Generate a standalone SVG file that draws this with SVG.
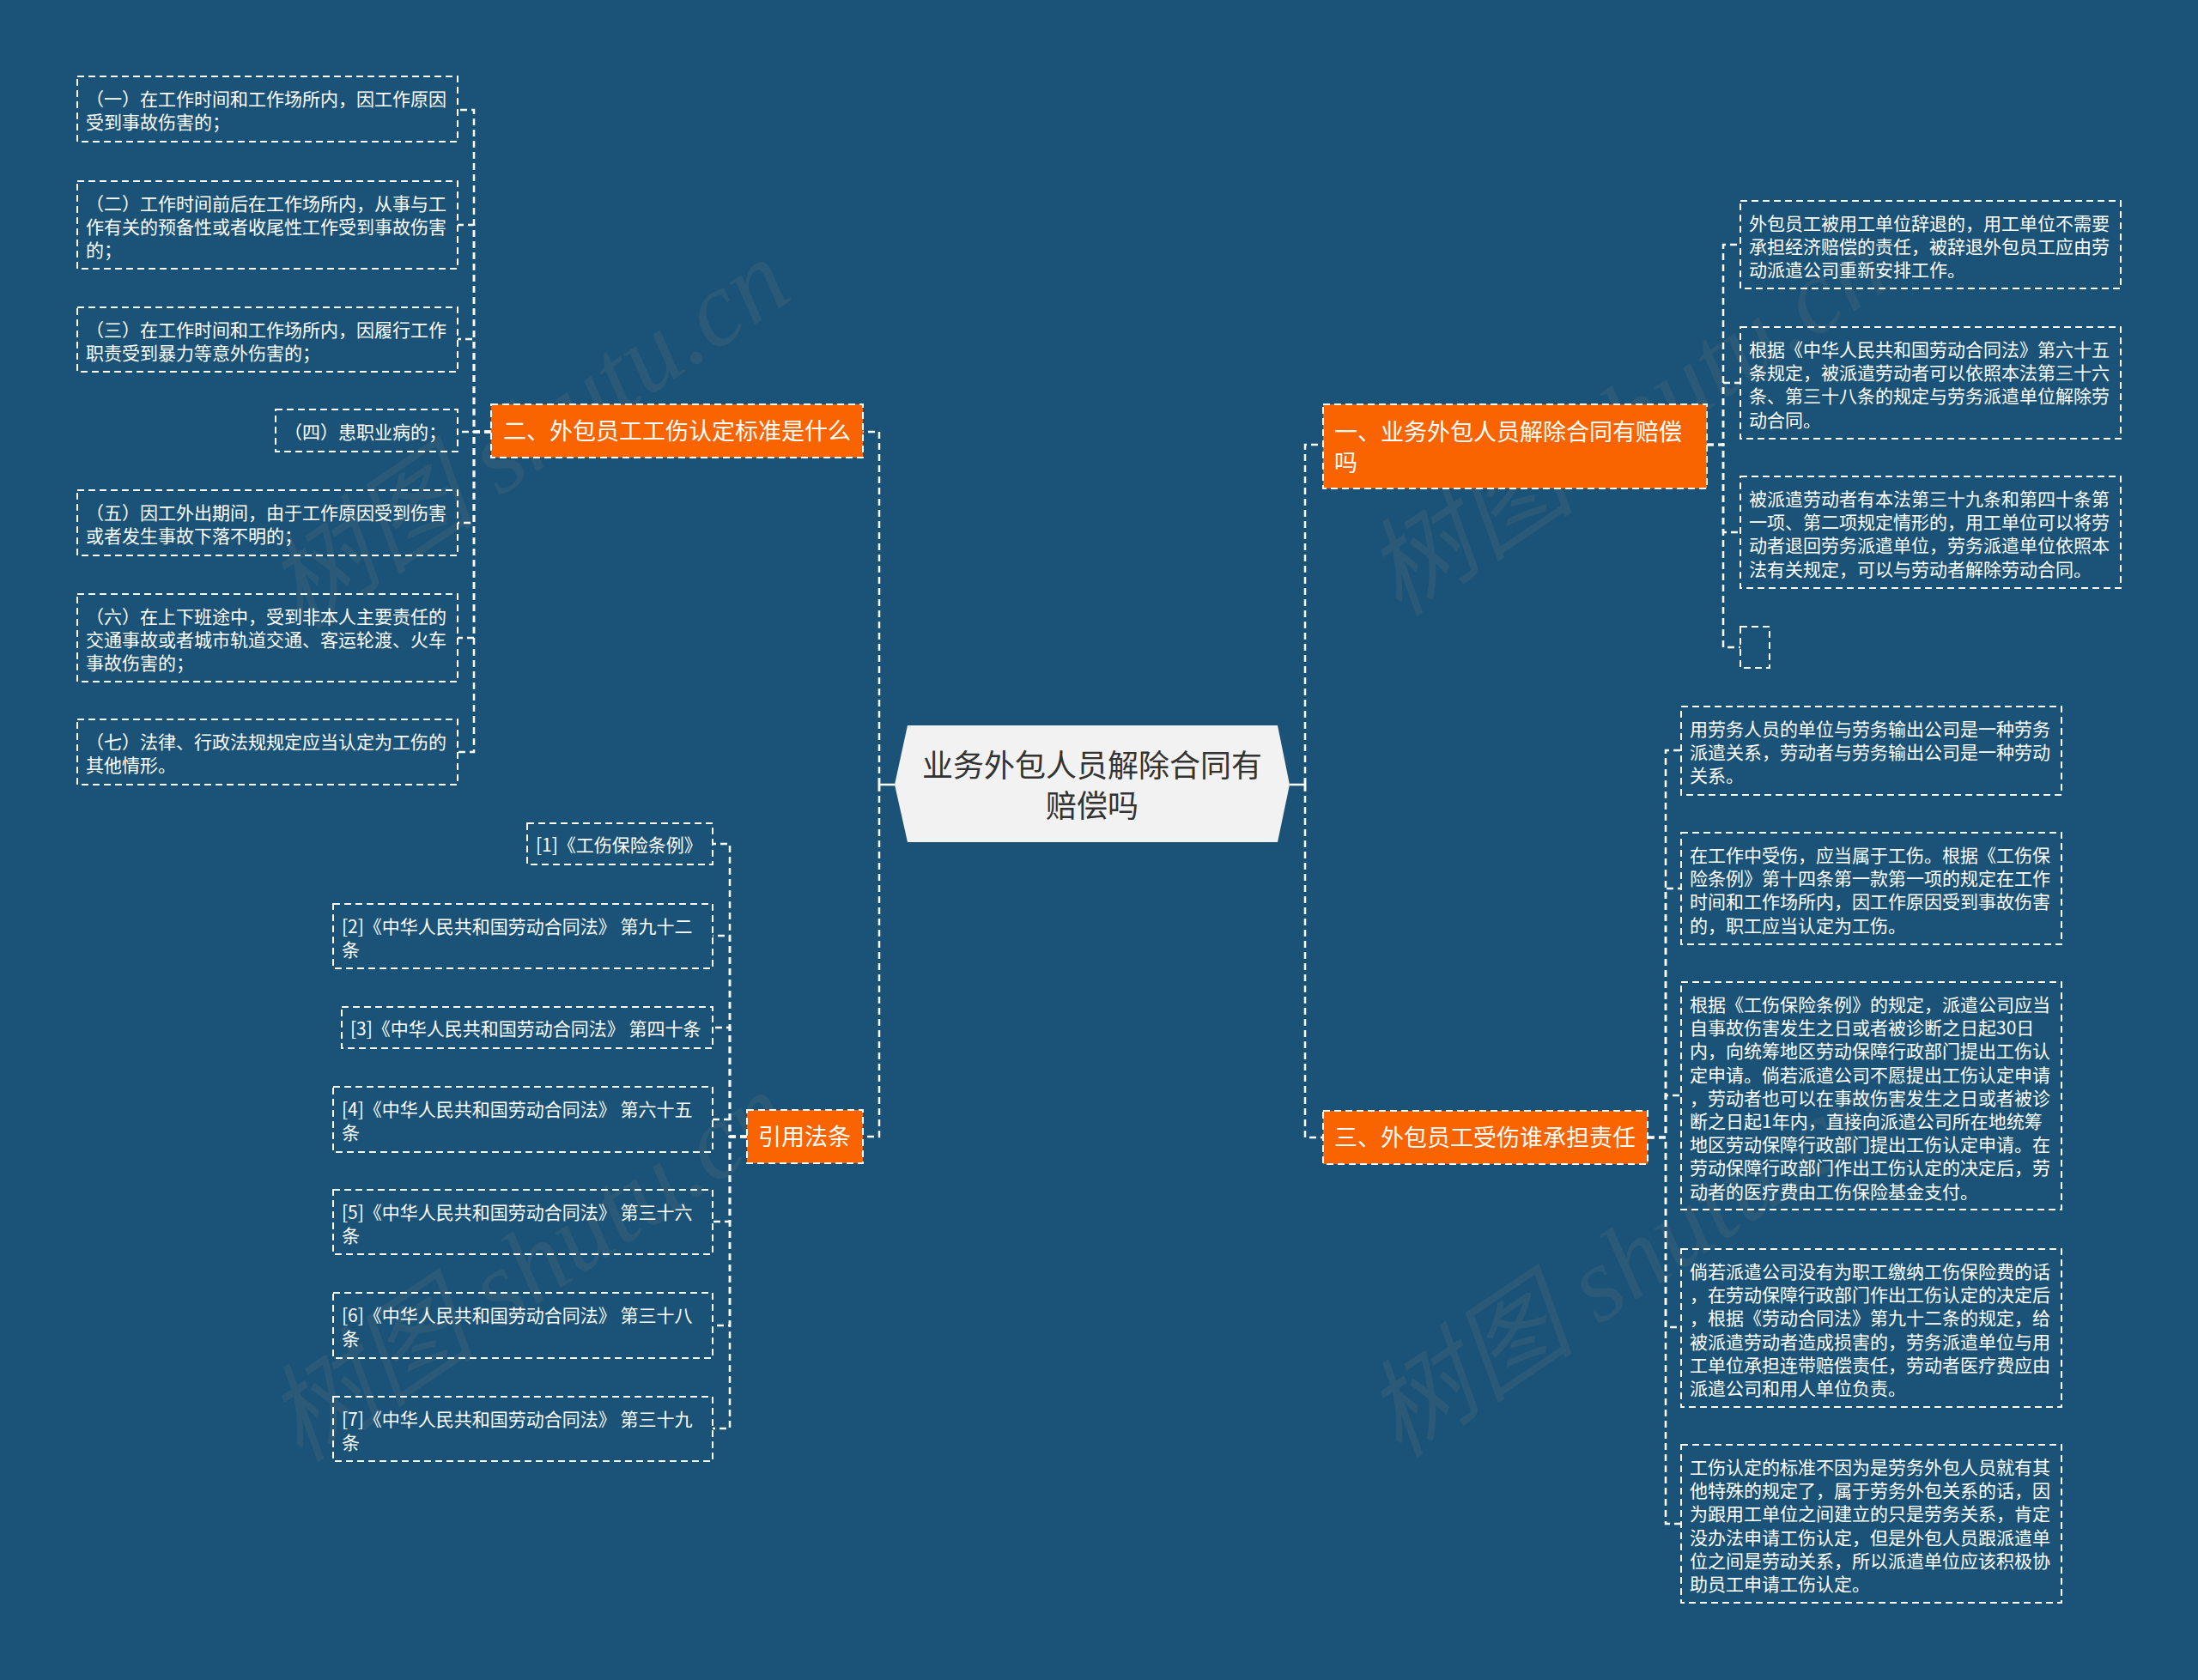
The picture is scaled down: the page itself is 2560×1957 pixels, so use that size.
<svg xmlns="http://www.w3.org/2000/svg" width="2560" height="1957" viewBox="0 0 2560 1957">
<style>
.leaf rect{fill:none;stroke:#fff;stroke-width:2;stroke-dasharray:8 5}
.leaf text{fill:#fff;font-size:21px;font-family:"Noto Sans CJK SC","Noto Sans",sans-serif;dominant-baseline:central}
.main rect{fill:#fa6400;stroke:#fff;stroke-width:2;stroke-dasharray:8 5}
.main text{fill:#fff;font-size:27px;font-family:"Noto Sans CJK SC","Noto Sans",sans-serif;dominant-baseline:central}
.conn path{fill:none;stroke:#fff;stroke-width:2.5;stroke-dasharray:8 5}
.conn .solid{stroke-dasharray:none}
.wm{fill:#7a7a7a;fill-opacity:0.17;font-size:124px;font-family:"Liberation Serif","Noto Sans CJK SC",serif;font-style:italic}
</style>
<rect width="2560" height="1957" fill="#1a5377"/>
<g id="watermarks">
<text class="wm" x="350" y="735" transform="rotate(-34 350 735)">树图 shutu.cn</text>
<text class="wm" x="1630" y="720" transform="rotate(-34 1630 720)">树图 shutu.cn</text>
<text class="wm" x="350" y="1705" transform="rotate(-34 350 1705)">树图 shutu.cn</text>
<text class="wm" x="1630" y="1700" transform="rotate(-34 1630 1700)">树图 shutu.cn</text>
</g>
<g id="connectors" class="conn">
<path d="M1024,914 V503 H1005"/>
<path d="M1024,914 V1324 H1005"/>
<path d="M1520,914 V518 H1541"/>
<path d="M1520,914 V1325 H1541"/>
<path class="solid" d="M1024,914 H1042 M1024,906 V922"/>
<path class="solid" d="M1502,914 H1520 M1520,906 V922"/>
<path d="M572,503 H552 V128 H533"/>
<path d="M572,503 H552 V262 H533"/>
<path d="M572,503 H552 V395 H533"/>
<path d="M572,503 H533"/>
<path d="M572,503 H552 V609 H533"/>
<path d="M572,503 H552 V743 H533"/>
<path d="M572,503 H552 V876 H533"/>
<path d="M870,1324 H850 V983 H830"/>
<path d="M870,1324 H850 V1090 H830"/>
<path d="M870,1324 H850 V1197 H830"/>
<path d="M870,1324 H850 V1304 H830"/>
<path d="M870,1324 H850 V1423 H830"/>
<path d="M870,1324 H850 V1544 H830"/>
<path d="M870,1324 H850 V1664 H830"/>
<path d="M1988,518 H2007 V285 H2027"/>
<path d="M1988,518 H2007 V446 H2027"/>
<path d="M1988,518 H2007 V620 H2027"/>
<path d="M1988,518 H2007 V754 H2027"/>
<path d="M1919,1325 H1940 V874 H1958"/>
<path d="M1919,1325 H1940 V1035 H1958"/>
<path d="M1919,1325 H1940 V1276 H1958"/>
<path d="M1919,1325 H1940 V1546 H1958"/>
<path d="M1919,1325 H1940 V1775 H1958"/>
</g>
<g id="center">
<polygon points="1057,845 1488,845 1502,914 1488,981 1057,981 1042,914" fill="#f2f2f2"/>
<text font-family="'Noto Sans CJK SC','Noto Sans',sans-serif" font-size="36" fill="#333" text-anchor="middle" dominant-baseline="central"><tspan x="1272" y="889">业务外包人员解除合同有</tspan><tspan x="1272" y="936">赔偿吗</tspan></text>
</g>
<g id="branch-2" class="main"><rect x="572" y="471" width="433" height="62"/><text x="586" y="500">二、外包员工工伤认定标准是什么</text></g>
<g id="branch-1" class="main"><rect x="1541" y="471" width="447" height="98"/><text><tspan x="1554" y="501">一、业务外包人员解除合同有赔偿</tspan><tspan x="1554" y="537">吗</tspan></text></g>
<g id="branch-3" class="main"><rect x="1541" y="1294" width="378" height="62"/><text x="1554" y="1323">三、外包员工受伤谁承担责任</text></g>
<g id="branch-law" class="main"><rect x="870" y="1293" width="135" height="62"/><text x="883" y="1322">引用法条</text></g>

<g id="L1" class="leaf"><rect x="90" y="89" width="443" height="76"/><text><tspan x="100" y="114">（一）在工作时间和工作场所内，因工作原因</tspan><tspan x="100" y="141">受到事故伤害的；</tspan></text></g>
<g id="L2" class="leaf"><rect x="90" y="211" width="443" height="102"/><text><tspan x="100" y="236">（二）工作时间前后在工作场所内，从事与工</tspan><tspan x="100" y="263">作有关的预备性或者收尾性工作受到事故伤害</tspan><tspan x="100" y="290">的；</tspan></text></g>
<g id="L3" class="leaf"><rect x="90" y="358" width="443" height="75"/><text><tspan x="100" y="383">（三）在工作时间和工作场所内，因履行工作</tspan><tspan x="100" y="410">职责受到暴力等意外伤害的；</tspan></text></g>
<g id="L4" class="leaf"><rect x="321" y="477" width="212" height="49"/><text x="331" y="502">（四）患职业病的；</text></g>
<g id="L5" class="leaf"><rect x="90" y="571" width="443" height="76"/><text><tspan x="100" y="596">（五）因工外出期间，由于工作原因受到伤害</tspan><tspan x="100" y="623">或者发生事故下落不明的；</tspan></text></g>
<g id="L6" class="leaf"><rect x="90" y="692" width="443" height="102"/><text><tspan x="100" y="717">（六）在上下班途中，受到非本人主要责任的</tspan><tspan x="100" y="744">交通事故或者城市轨道交通、客运轮渡、火车</tspan><tspan x="100" y="771">事故伤害的；</tspan></text></g>
<g id="L7" class="leaf"><rect x="90" y="838" width="443" height="76"/><text><tspan x="100" y="863">（七）法律、行政法规规定应当认定为工伤的</tspan><tspan x="100" y="890">其他情形。</tspan></text></g>

<g id="F1" class="leaf"><rect x="614" y="959" width="216" height="48"/><text x="624" y="983">[1]《工伤保险条例》</text></g>
<g id="F2" class="leaf"><rect x="388" y="1053" width="442" height="75"/><text><tspan x="398" y="1078">[2]《中华人民共和国劳动合同法》 第九十二</tspan><tspan x="398" y="1105">条</tspan></text></g>
<g id="F3" class="leaf"><rect x="398" y="1173" width="432" height="48"/><text x="408" y="1197">[3]《中华人民共和国劳动合同法》 第四十条</text></g>
<g id="F4" class="leaf"><rect x="388" y="1266" width="442" height="76"/><text><tspan x="398" y="1291">[4]《中华人民共和国劳动合同法》 第六十五</tspan><tspan x="398" y="1318">条</tspan></text></g>
<g id="F5" class="leaf"><rect x="388" y="1386" width="442" height="75"/><text><tspan x="398" y="1411">[5]《中华人民共和国劳动合同法》 第三十六</tspan><tspan x="398" y="1438">条</tspan></text></g>
<g id="F6" class="leaf"><rect x="388" y="1506" width="442" height="76"/><text><tspan x="398" y="1531">[6]《中华人民共和国劳动合同法》 第三十八</tspan><tspan x="398" y="1558">条</tspan></text></g>
<g id="F7" class="leaf"><rect x="388" y="1627" width="442" height="75"/><text><tspan x="398" y="1652">[7]《中华人民共和国劳动合同法》 第三十九</tspan><tspan x="398" y="1679">条</tspan></text></g>

<g id="R1" class="leaf"><rect x="2027" y="234" width="443" height="102"/><text><tspan x="2037" y="259">外包员工被用工单位辞退的，用工单位不需要</tspan><tspan x="2037" y="286">承担经济赔偿的责任，被辞退外包员工应由劳</tspan><tspan x="2037" y="313">动派遣公司重新安排工作。</tspan></text></g>
<g id="R2" class="leaf"><rect x="2027" y="381" width="443" height="130"/><text><tspan x="2037" y="406">根据《中华人民共和国劳动合同法》第六十五</tspan><tspan x="2037" y="433">条规定，被派遣劳动者可以依照本法第三十六</tspan><tspan x="2037" y="460">条、第三十八条的规定与劳务派遣单位解除劳</tspan><tspan x="2037" y="488">动合同。</tspan></text></g>
<g id="R3" class="leaf"><rect x="2027" y="555" width="443" height="130"/><text><tspan x="2037" y="580">被派遣劳动者有本法第三十九条和第四十条第</tspan><tspan x="2037" y="607">一项、第二项规定情形的，用工单位可以将劳</tspan><tspan x="2037" y="634">动者退回劳务派遣单位，劳务派遣单位依照本</tspan><tspan x="2037" y="662">法有关规定，可以与劳动者解除劳动合同。</tspan></text></g>
<g id="R4" class="leaf"><rect x="2027" y="730" width="34" height="48"/></g>

<g id="C1" class="leaf"><rect x="1958" y="823" width="443" height="103"/><text><tspan x="1968" y="848">用劳务人员的单位与劳务输出公司是一种劳务</tspan><tspan x="1968" y="875">派遣关系，劳动者与劳务输出公司是一种劳动</tspan><tspan x="1968" y="902">关系。</tspan></text></g>
<g id="C2" class="leaf"><rect x="1958" y="970" width="443" height="130"/><text><tspan x="1968" y="995">在工作中受伤，应当属于工伤。根据《工伤保</tspan><tspan x="1968" y="1022">险条例》第十四条第一款第一项的规定在工作</tspan><tspan x="1968" y="1049">时间和工作场所内，因工作原因受到事故伤害</tspan><tspan x="1968" y="1077">的，职工应当认定为工伤。</tspan></text></g>
<g id="C3" class="leaf"><rect x="1958" y="1144" width="443" height="265"/><text><tspan x="1968" y="1169">根据《工伤保险条例》的规定，派遣公司应当</tspan><tspan x="1968" y="1196">自事故伤害发生之日或者被诊断之日起30日</tspan><tspan x="1968" y="1223">内，向统筹地区劳动保障行政部门提出工伤认</tspan><tspan x="1968" y="1251">定申请。倘若派遣公司不愿提出工伤认定申请</tspan><tspan x="1968" y="1278">，劳动者也可以在事故伤害发生之日或者被诊</tspan><tspan x="1968" y="1305">断之日起1年内，直接向派遣公司所在地统筹</tspan><tspan x="1968" y="1332">地区劳动保障行政部门提出工伤认定申请。在</tspan><tspan x="1968" y="1359">劳动保障行政部门作出工伤认定的决定后，劳</tspan><tspan x="1968" y="1387">动者的医疗费由工伤保险基金支付。</tspan></text></g>
<g id="C4" class="leaf"><rect x="1958" y="1455" width="443" height="184"/><text><tspan x="1968" y="1480">倘若派遣公司没有为职工缴纳工伤保险费的话</tspan><tspan x="1968" y="1507">，在劳动保障行政部门作出工伤认定的决定后</tspan><tspan x="1968" y="1534">，根据《劳动合同法》第九十二条的规定，给</tspan><tspan x="1968" y="1562">被派遣劳动者造成损害的，劳务派遣单位与用</tspan><tspan x="1968" y="1589">工单位承担连带赔偿责任，劳动者医疗费应由</tspan><tspan x="1968" y="1616">派遣公司和用人单位负责。</tspan></text></g>
<g id="C5" class="leaf"><rect x="1958" y="1683" width="443" height="184"/><text><tspan x="1968" y="1708">工伤认定的标准不因为是劳务外包人员就有其</tspan><tspan x="1968" y="1735">他特殊的规定了，属于劳务外包关系的话，因</tspan><tspan x="1968" y="1762">为跟用工单位之间建立的只是劳务关系，肯定</tspan><tspan x="1968" y="1790">没办法申请工伤认定，但是外包人员跟派遣单</tspan><tspan x="1968" y="1817">位之间是劳动关系，所以派遣单位应该积极协</tspan><tspan x="1968" y="1844">助员工申请工伤认定。</tspan></text></g>
</svg>
